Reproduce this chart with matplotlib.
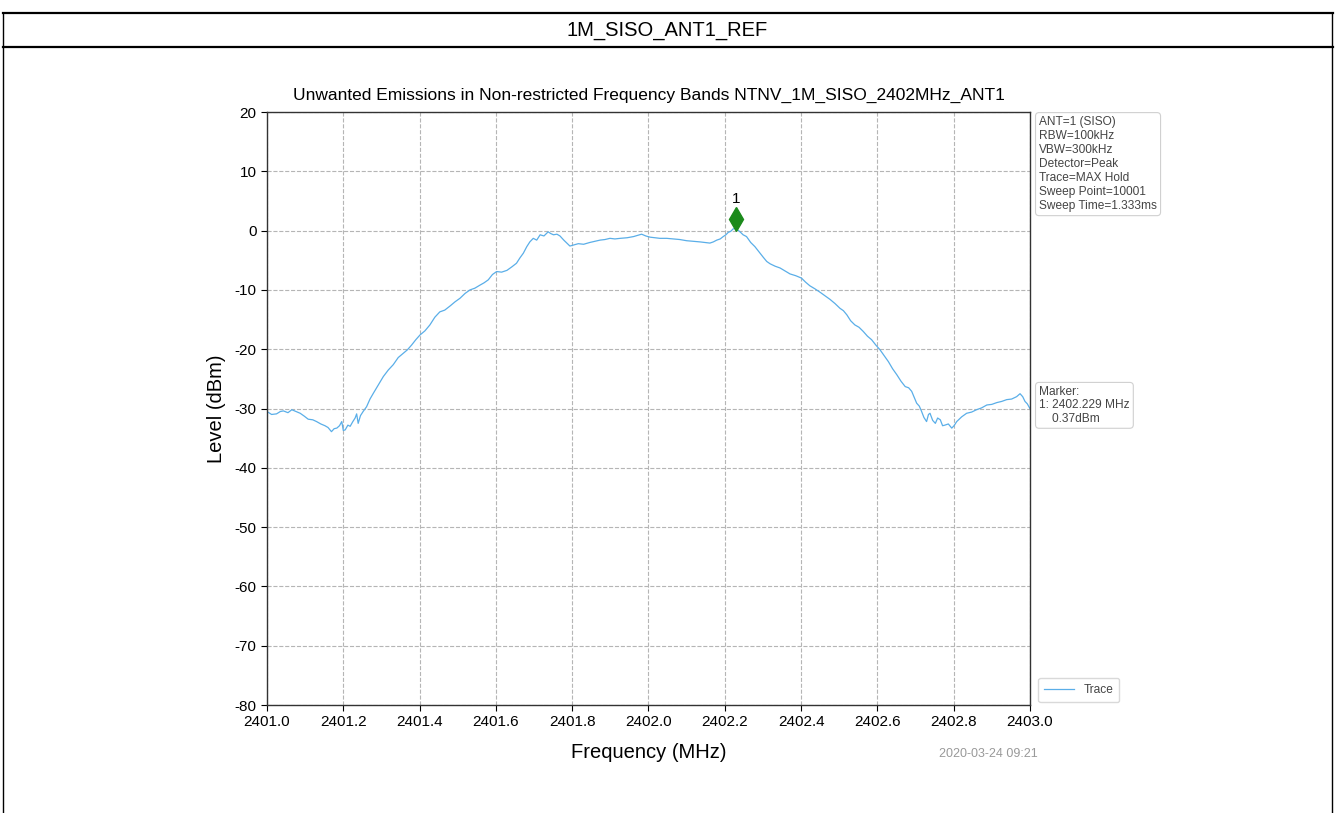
import numpy as np
import matplotlib
matplotlib.use("Agg")
import matplotlib.pyplot as plt
from matplotlib.lines import Line2D
from matplotlib.transforms import offset_copy

plt.rcParams['font.family'] = ['Liberation Sans', 'DejaVu Sans']
plt.rcParams['axes.unicode_minus'] = False

# trace (MHz, dBm)
freq = [2401.000, 2401.012, 2401.025, 2401.035, 2401.043, 2401.055, 2401.065, 2401.076,
        2401.087, 2401.098, 2401.108, 2401.120, 2401.130, 2401.141, 2401.152, 2401.160,
        2401.169, 2401.176, 2401.183, 2401.190, 2401.196, 2401.200, 2401.205, 2401.212,
        2401.218, 2401.225, 2401.231, 2401.235, 2401.239, 2401.245, 2401.252, 2401.261,
        2401.270, 2401.279, 2401.292, 2401.305, 2401.318, 2401.331, 2401.344, 2401.357,
        2401.368, 2401.379, 2401.390, 2401.401, 2401.414, 2401.427, 2401.440, 2401.453,
        2401.466, 2401.480, 2401.493, 2401.506, 2401.519, 2401.532, 2401.545, 2401.558,
        2401.569, 2401.580, 2401.591, 2401.602, 2401.615, 2401.629, 2401.642, 2401.654,
        2401.663, 2401.672, 2401.681, 2401.689, 2401.698, 2401.707, 2401.716, 2401.726,
        2401.737, 2401.744, 2401.751, 2401.760, 2401.768, 2401.778, 2401.786, 2401.794,
        2401.805, 2401.816, 2401.830, 2401.846, 2401.860, 2401.873, 2401.886, 2401.899,
        2401.912, 2401.926, 2401.944, 2401.961, 2401.972, 2401.982, 2401.993, 2402.004,
        2402.017, 2402.030, 2402.048, 2402.065, 2402.082, 2402.100, 2402.118, 2402.135,
        2402.148, 2402.161, 2402.170, 2402.179, 2402.188, 2402.196, 2402.203, 2402.209,
        2402.216, 2402.222, 2402.229, 2402.240, 2402.248, 2402.257, 2402.268, 2402.279,
        2402.290, 2402.301, 2402.310, 2402.319, 2402.332, 2402.345, 2402.358, 2402.371,
        2402.386, 2402.401, 2402.412, 2402.423, 2402.436, 2402.450, 2402.463, 2402.476,
        2402.489, 2402.502, 2402.511, 2402.520, 2402.530, 2402.541, 2402.552, 2402.563,
        2402.574, 2402.585, 2402.596, 2402.607, 2402.618, 2402.629, 2402.640, 2402.651,
        2402.662, 2402.673, 2402.682, 2402.690, 2402.697, 2402.703, 2402.710, 2402.716,
        2402.722, 2402.729, 2402.734, 2402.738, 2402.745, 2402.752, 2402.758, 2402.765,
        2402.771, 2402.777, 2402.786, 2402.795, 2402.801, 2402.808, 2402.821, 2402.834,
        2402.847, 2402.860, 2402.873, 2402.887, 2402.900, 2402.913, 2402.926, 2402.939,
        2402.952, 2402.965, 2402.974, 2402.981, 2402.987, 2402.993, 2403.000]
level = [-30.5, -31.0, -30.9, -30.5, -30.4, -30.7, -30.2, -30.5,
         -30.8, -31.3, -31.8, -31.9, -32.2, -32.6, -32.9, -33.2,
         -33.9, -33.4, -33.3, -32.9, -32.2, -33.7, -33.6, -32.8,
         -33.0, -32.2, -31.6, -30.9, -32.5, -31.2, -30.5, -29.7,
         -28.4, -27.4, -26.0, -24.6, -23.5, -22.6, -21.4, -20.7,
         -20.1, -19.3, -18.4, -17.6, -16.9, -15.9, -14.6, -13.7,
         -13.4, -12.7, -12.0, -11.4, -10.6, -10.0, -9.7, -9.2,
         -8.8, -8.3, -7.4, -6.9, -7.0, -6.7, -6.1, -5.5,
         -4.6, -3.8, -2.7, -1.9, -1.3, -1.6, -0.7, -0.9,
         -0.2, -0.5, -0.7, -0.6, -0.9, -1.6, -2.1, -2.6,
         -2.4, -2.2, -2.3, -2.0, -1.8, -1.6, -1.5, -1.3,
         -1.4, -1.3, -1.2, -1.0, -0.8, -0.6, -0.9, -1.1,
         -1.2, -1.3, -1.3, -1.4, -1.5, -1.7, -1.8, -1.9,
         -2.0, -2.1, -1.9, -1.6, -1.4, -1.0, -0.7, -0.3,
         -0.1, 0.3, 0.37, -0.2, -0.7, -1.0, -2.0, -2.7,
         -3.6, -4.5, -5.2, -5.6, -6.0, -6.3, -6.8, -7.3,
         -7.6, -8.0, -8.7, -9.3, -9.8, -10.4, -11.0, -11.6,
         -12.3, -13.1, -13.5, -14.2, -15.2, -15.9, -16.3, -17.0,
         -17.8, -18.4, -19.3, -20.1, -21.1, -22.1, -23.3, -24.3,
         -25.4, -26.3, -26.5, -27.1, -28.2, -29.1, -29.6, -30.5,
         -31.5, -32.2, -31.0, -30.8, -32.0, -32.5, -31.6, -31.9,
         -32.9, -32.8, -32.6, -33.3, -32.9, -32.2, -31.4, -30.8,
         -30.6, -30.2, -29.9, -29.4, -29.3, -29.0, -28.8, -28.5,
         -28.4, -28.0, -27.5, -28.0, -28.8, -29.2, -30.0]

marker_freq = 2402.229
marker_level = 0.37

info_lines = ["ANT=1 (SISO)", "RBW=100kHz", "VBW=300kHz", "Detector=Peak",
              "Trace=MAX Hold", "Sweep Point=10001", "Sweep Time=1.333ms"]
x_ticks = [2401.0, 2401.2, 2401.4, 2401.6, 2401.8, 2402.0, 2402.2, 2402.4, 2402.6, 2402.8, 2403.0]
y_ticks = [20, 10, 0, -10, -20, -30, -40, -50, -60, -70, -80]

fig = plt.figure(figsize=(13.35, 8.13), dpi=100)

# outer table frame with header
fig.add_artist(Line2D([0.002, 0.9985], [0.984, 0.984], color='black', lw=1.6))
fig.add_artist(Line2D([0.002, 0.9985], [0.942, 0.942], color='black', lw=1.6))
fig.add_artist(Line2D([0.0025, 0.0025], [0.0, 0.984], color='black', lw=1.0))
fig.add_artist(Line2D([0.998, 0.998], [0.0, 0.984], color='black', lw=1.0))
fig.text(0.5, 0.963, "1M_SISO_ANT1_REF", ha='center', va='center', fontsize=14.5)

ax = fig.add_axes([0.200, 0.1328, 0.5715, 0.7294])
ax.plot(freq, level, color='#5aaee8', lw=0.9, label='Trace')

# marker diamond sits just above the trace point
tr = offset_copy(ax.transData, fig=fig, x=0, y=7, units='points')
ax.plot([marker_freq], [marker_level], marker='d', color='#1b8a1b', markersize=12,
        transform=tr, linestyle='none')
ax.annotate("1", (marker_freq, marker_level), xytext=(0, 16), textcoords='offset points',
            ha='center', va='bottom', fontsize=11)

ax.set_xlim(2401.0, 2403.0)
ax.set_ylim(-80, 20)
ax.set_xticks(x_ticks)
ax.set_xticklabels([f"{t:.1f}" for t in x_ticks])
ax.set_yticks(y_ticks)
ax.tick_params(labelsize=11, length=4)
ax.grid(True, linestyle='--', color='#b5b5b5', lw=0.8)
for s in ax.spines.values():
    s.set_color('#333333')
    s.set_linewidth(1.0)

ax.set_title("Unwanted Emissions in Non-restricted Frequency Bands NTNV_1M_SISO_2402MHz_ANT1",
             fontsize=12.5, pad=9)
ax.set_xlabel("Frequency (MHz)", fontsize=14.5, labelpad=10)
ax.set_ylabel("Level (dBm)", fontsize=14.5, labelpad=6)

box = dict(boxstyle='round,pad=0.3', facecolor='white', edgecolor='#d0d0d0', lw=0.8)
ax.text(1.012, 0.993, "\n".join(info_lines), transform=ax.transAxes, ha='left', va='top',
        fontsize=8.6, color='#444444', linespacing=1.22, bbox=box)
ax.text(1.012, 0.538, f"Marker:\n1: {marker_freq:.3f} MHz\n    {marker_level:.2f}dBm",
        transform=ax.transAxes, ha='left', va='top', fontsize=8.6, color='#444444',
        linespacing=1.15, bbox=box)

leg = ax.legend(loc='lower left', bbox_to_anchor=(1.003, -0.005), fontsize=8.6, frameon=True,
                edgecolor='#d0d0d0', handlelength=2.5, borderpad=0.5)
for t in leg.get_texts():
    t.set_color('#444444')

fig.text(0.7405, 0.072, "2020-03-24 09:21", ha='center', va='center', fontsize=9,
         color='#999999')

fig.savefig("out.png", dpi=100)
